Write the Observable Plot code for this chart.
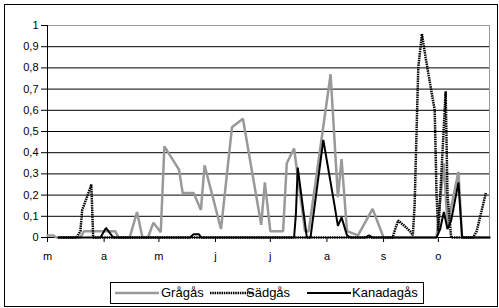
<!DOCTYPE html>
<html><head><meta charset="utf-8">
<script src="https://cdn.jsdelivr.net/npm/d3@7"></script>
<script src="https://cdn.jsdelivr.net/npm/@observablehq/plot@0.6"></script>
<style>
body{margin:0;background:#fff;}
#wrap{position:relative;width:499px;height:308px;overflow:hidden;font-family:"Liberation Sans",Arial,sans-serif;background:#fff;}
#frame{position:absolute;left:4px;top:4px;width:494px;height:303px;border:1px solid #000;box-sizing:border-box;}
#chart{position:absolute;left:0;top:0;}
#legend{position:absolute;left:110px;top:282px;width:314px;height:22px;border:1px solid #000;box-sizing:border-box;font-size:13px;}
#legend .it{position:absolute;top:0;height:20px;line-height:20px;white-space:nowrap;}
#legend svg{position:absolute;top:0;}
</style></head><body>
<div id="wrap"><div id="frame"></div><div id="chart"></div><div id="legend"></div></div>
<script>
// Series names
const seriesNames = ["Grågås", "Sädgås", "Kanadagås"];

// Grågås
const grayDates = ["03-01","03-04","03-06","03-19","03-21","04-07","04-09","04-15","04-19","04-22","04-25","04-28","05-02","05-04","05-12","05-14","05-20","05-24","05-26","06-04","06-10","06-16","06-26","06-28","07-01","07-08","07-10","07-14","07-20","07-22","08-03","08-07","08-09","08-12","08-18","08-26","09-01","09-30","10-04","10-06","10-12","10-14","10-29"];
const grayValues = [0.01,0.01,0,0,0.03,0.03,0,0,0.12,0,0,0.07,0.025,0.43,0.32,0.21,0.21,0.13,0.34,0.04,0.52,0.56,0.06,0.26,0.03,0.03,0.35,0.42,0.03,0.03,0.77,0.19,0.37,0.03,0.01,0.135,0,0,0.35,0.06,0.31,0,0];

// Sädgås
const sadDates = ["03-07","03-17","03-19","03-20","03-23","03-25","03-26","09-06","09-07","09-09","09-13","09-16","09-17","09-18","09-19","09-20","09-22","09-24","09-27","09-29","09-30","10-01","10-05","10-06","10-08","10-20","10-22","10-27"];
const sadValues = [0,0,0.03,0.13,0.2,0.25,0,0,0.03,0.08,0.05,0.025,0.01,0.15,0.48,0.8,0.96,0.85,0.7,0.6,0.2,0.03,0.69,0.2,0,0,0.03,0.21];

// Kanadagås
const kanDates = ["03-07","03-30","04-02","04-06","05-18","05-20","05-23","05-24","07-14","07-15","07-16","07-21","07-23","07-30","08-05","08-07","08-09","08-12","08-14","08-22","08-24","08-26","09-30","10-02","10-04","10-06","10-08","10-12","10-14","10-29"];
const kanValues = [0,0,0.045,0,0,0.015,0.015,0,0,0.11,0.33,0,0,0.46,0.16,0.055,0.095,0.01,0,0,0.01,0,0,0.04,0.12,0.04,0.08,0.26,0,0];

// Axis ticks
const yTicks = [0,0.1,0.2,0.3,0.4,0.5,0.6,0.7,0.8,0.9,1];
const yLabels = ["0","0,1","0,2","0,3","0,4","0,5","0,6","0,7","0,8","0,9","1"];
const monthTickDates = ["03-01","04-01","05-01","06-01","07-01","08-01","09-01","10-01"];
const monthLabels = ["m","a","m","j","j","a","s","o"];
const domainDates = ["03-01","10-29"];

const parse = s => new Date("2001-" + s + "T00:00:00Z");
const rows = (ds, vs) => ds.map((d, i) => ({date: parse(d), value: vs[i]}));
const start = parse(domainDates[0]), end = parse(domainDates[1]);
const monthTicks = monthTickDates.map(parse);

const chart = Plot.plot({
  width: 499, height: 270,
  marginLeft: 47, marginRight: 10, marginTop: 25, marginBottom: 33,
  style: {fontFamily: "Liberation Sans, Arial, sans-serif", fontSize: "11px", background: "transparent", color: "#000", overflow: "visible"},
  x: {type: "utc", domain: [start, end], label: null},
  y: {domain: [0, 1], label: null},
  marks: [
    Plot.ruleY(yTicks.slice(1, -1), {stroke: "#000", strokeWidth: 1}),
    Plot.ruleY([1], {stroke: "#9a9a9a"}),
    Plot.ruleX([end], {stroke: "#9a9a9a"}),
    Plot.axisY({ticks: yTicks, tickSize: 6, tickPadding: 3, label: null, tickFormat: d => yLabels[Math.round(d * 10)]}),
    Plot.axisX({ticks: monthTicks, tickSize: 5, tickPadding: 10, label: null, tickFormat: d => monthLabels[monthTicks.findIndex(t => +t === +d)]}),
    Plot.ruleX([start], {stroke: "#000"}),
    Plot.ruleY([0], {stroke: "#000"}),
    Plot.line(rows(grayDates, grayValues), {x: "date", y: "value", stroke: "#999", strokeWidth: 2.5, strokeLinejoin: "miter"}),
    Plot.line(rows(sadDates, sadValues), {x: "date", y: "value", stroke: "#000", strokeWidth: 2.5, strokeDasharray: "1.5,0.8", strokeLinecap: "butt", strokeLinejoin: "miter"}),
    Plot.line(rows(kanDates, kanValues), {x: "date", y: "value", stroke: "#000", strokeWidth: 2, strokeLinejoin: "miter"})
  ]
});
document.getElementById("chart").appendChild(chart);

// Legend
const legend = document.getElementById("legend");
const items = [
  {name: seriesNames[0], sx: 4, tx: 50, stroke: "#999", w: 2.5, dash: null},
  {name: seriesNames[1], sx: 99, tx: 135, stroke: "#000", w: 2.5, dash: "1.5,0.8"},
  {name: seriesNames[2], sx: 196, tx: 241, stroke: "#000", w: 2, dash: null}
];
items.forEach(it => {
  const svg = document.createElementNS("http://www.w3.org/2000/svg", "svg");
  svg.setAttribute("width", 44); svg.setAttribute("height", 20);
  svg.style.left = it.sx + "px";
  const ln = document.createElementNS("http://www.w3.org/2000/svg", "line");
  ln.setAttribute("x1", 0); ln.setAttribute("x2", 44); ln.setAttribute("y1", 10); ln.setAttribute("y2", 10);
  ln.setAttribute("stroke", it.stroke); ln.setAttribute("stroke-width", it.w);
  if (it.dash) ln.setAttribute("stroke-dasharray", it.dash);
  svg.appendChild(ln);
  legend.appendChild(svg);
  const sp = document.createElement("span");
  sp.className = "it"; sp.style.left = it.tx + "px"; sp.textContent = it.name;
  legend.appendChild(sp);
});
</script></body></html>
